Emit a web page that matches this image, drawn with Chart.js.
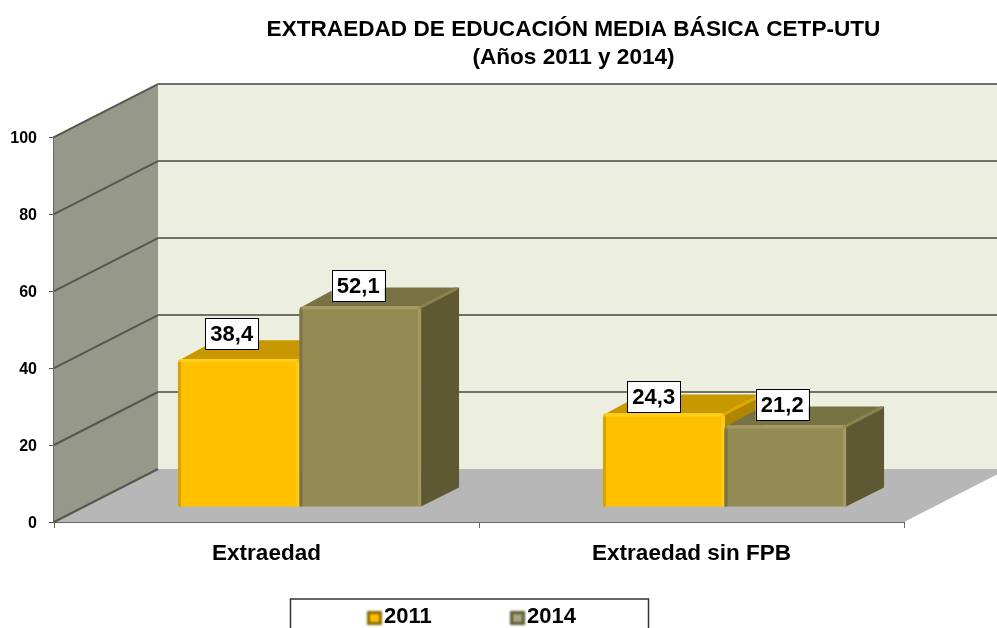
<!DOCTYPE html>
<html>
<head>
<meta charset="utf-8">
<style>
  html, body { margin: 0; padding: 0; background: #fff; overflow: hidden; }
  canvas { display: block; }
</style>
<script src="https://cdn.jsdelivr.net/npm/chart.js@4"></script>
</head>
<body>
<canvas id="chart" width="997" height="628"></canvas>
<script>
const categories = ['Extraedad', 'Extraedad sin FPB'];
const seriesNames = ['2011', '2014'];
const values2011 = [38.4, 24.3];
const values2014 = [52.1, 21.2];
const titleLines = ['EXTRAEDAD DE EDUCACIÓN MEDIA BÁSICA CETP-UTU', '(Años 2011 y 2014)'];

const FONT = '"Liberation Sans", Arial, sans-serif';

// depth of the fake 3d box, and how far the bars sit inside it
const BOX_DX = 104, BOX_DY = -53;
const BAR_DX = 33, BAR_DY = -15;
const SIDE_DX = 38, SIDE_DY = -19;

const faces = [
  { front: '#FFC000', top: '#C89800', side: '#B08600', light: '#FFCE1A', dark: '#D8A200', seam: '#DDA800' },
  { front: '#948A54', top: '#787144', side: '#5F5933', light: '#A59B62', dark: '#7C7346', seam: '#8A8250' },
];
// labels were moved by hand in the original: per series, per category
const labelShift = [
  [[-7, -10], [-10, -1]],
  [[-2, -5], [-3, -5]],
];

function poly(ctx, pts, fill) {
  ctx.beginPath();
  pts.forEach((p, i) => i ? ctx.lineTo(p[0], p[1]) : ctx.moveTo(p[0], p[1]));
  ctx.closePath();
  ctx.fillStyle = fill;
  ctx.fill();
}

function drawSeries(chart, d) {
  const ctx = chart.ctx;
  const f = faces[d];
  const meta = chart.getDatasetMeta(d);
  meta.data.forEach(bar => {
    const x0 = bar.x - bar.width / 2 + BAR_DX, x1 = bar.x + bar.width / 2 + BAR_DX;
    const top = bar.y + BAR_DY, base = bar.base + BAR_DY;
    poly(ctx, [[x0 + 3, top], [x1, top], [x1 + SIDE_DX, top + SIDE_DY], [x0 + SIDE_DX, top + SIDE_DY]], f.top);
    poly(ctx, [[x1, top], [x1 + SIDE_DX, top + SIDE_DY], [x1 + SIDE_DX, base + SIDE_DY], [x1, base]], f.side);
    ctx.strokeStyle = f.seam;
    ctx.lineWidth = 3;
    ctx.beginPath();
    ctx.moveTo(x1 - 1, top + 1);
    ctx.lineTo(x1 + SIDE_DX - 2, top + SIDE_DY + 1);
    ctx.stroke();
  });
  ctx.save();
  ctx.translate(BAR_DX, BAR_DY);
  meta.controller.draw();
  meta.data.forEach(bar => {
    const x0 = bar.x - bar.width / 2, x1 = bar.x + bar.width / 2;
    ctx.fillStyle = f.dark;
    ctx.fillRect(x0, bar.y + 3, 3, bar.base - bar.y - 3);
    ctx.fillStyle = f.light;
    ctx.fillRect(x1 - 3, bar.y + 3, 3, bar.base - bar.y - 3);
    ctx.fillRect(x0 + 3, bar.y, bar.width - 6, 3);
  });
  ctx.restore();
}

const box3d = {
  id: 'box3d',
  afterLayout(chart) {
    // title is centred over the plot, not the page
    chart.titleBlock.left = 150;
    chart.titleBlock.right = 997;
  },
  beforeDatasetsDraw(chart) {
    const ctx = chart.ctx;
    const { left, right } = chart.chartArea;
    const y = chart.scales.y;
    const y0 = y.getPixelForValue(0), y100 = y.getPixelForValue(100);
    ctx.save();
    // back wall
    ctx.fillStyle = '#ECEFDF';
    ctx.fillRect(left + BOX_DX, y100 + BOX_DY, 997 - left - BOX_DX, y0 - y100);
    // side wall
    poly(ctx, [[left, y0], [left, y100], [left + BOX_DX, y100 + BOX_DY], [left + BOX_DX, y0 + BOX_DY]], '#969889');
    // floor
    poly(ctx, [[left, y0], [right, y0], [right + BOX_DX, y0 + BOX_DY], [left + BOX_DX, y0 + BOX_DY]], '#B7B7B7');
    // gridlines across both walls
    ctx.lineWidth = 2;
    y.ticks.forEach(t => {
      const py = y.getPixelForValue(t.value);
      ctx.strokeStyle = '#55584F';
      ctx.beginPath();
      ctx.moveTo(left, py);
      ctx.lineTo(left + BOX_DX, py + BOX_DY);
      ctx.stroke();
      if (t.value > 0) {
        ctx.strokeStyle = '#6F7367';
        ctx.beginPath();
        ctx.moveTo(left + BOX_DX, py + BOX_DY);
        ctx.lineTo(997, py + BOX_DY);
        ctx.stroke();
      }
    });
    ctx.restore();
  },
  // 2014 has to paint over 2011, so the series are drawn by hand in afterDatasetsDraw
  beforeDatasetDraw() {
    return false;
  },
  afterDatasetsDraw(chart) {
    const ctx = chart.ctx;
    drawSeries(chart, 0);
    drawSeries(chart, 1);
    ctx.save();
    // value boxes
    chart.data.datasets.forEach((ds, d) => {
      chart.getDatasetMeta(d).data.forEach((bar, i) => {
        const w = 53, h = 31;
        const cx = bar.x + BAR_DX + labelShift[d][i][0];
        const bottom = bar.y + BAR_DY + labelShift[d][i][1];
        ctx.fillStyle = '#fff';
        ctx.fillRect(cx - w / 2, bottom - h, w, h);
        ctx.strokeStyle = '#000';
        ctx.lineWidth = 1;
        ctx.strokeRect(Math.round(cx - w / 2) + 0.5, Math.round(bottom - h) + 0.5, w, h);
        ctx.fillStyle = '#000';
        ctx.font = 'bold 22px ' + FONT;
        ctx.textAlign = 'center';
        ctx.textBaseline = 'middle';
        ctx.fillText(ds.data[i].toFixed(1).replace('.', ','), cx, bottom - h / 2 + 1);
      });
    });
    // legend box runs off the bottom of the page
    ctx.strokeStyle = '#333';
    ctx.lineWidth = 1.5;
    ctx.beginPath();
    ctx.moveTo(290.5, 628);
    ctx.lineTo(290.5, 599);
    ctx.lineTo(648.5, 599);
    ctx.lineTo(648.5, 628);
    ctx.stroke();
    const legendX = [367, 510];
    chart.data.datasets.forEach((ds, d) => {
      const x = legendX[d];
      ctx.filter = 'blur(0.8px)';
      ctx.fillStyle = d ? '#5F5933' : '#8A6C00';
      ctx.fillRect(x, 611, 15, 14);
      ctx.fillStyle = d ? '#A8A67E' : '#FFC000';
      ctx.fillRect(x + 3, 614, 9, 8);
      ctx.filter = 'none';
      ctx.fillStyle = '#000';
      ctx.font = 'bold 22px ' + FONT;
      ctx.textAlign = 'left';
      ctx.textBaseline = 'middle';
      ctx.fillText(ds.label, x + 17, 617);
    });
    ctx.restore();
  },
};

new Chart(document.getElementById('chart').getContext('2d'), {
  type: 'bar',
  plugins: [box3d],
  data: {
    labels: categories,
    datasets: [
      { label: seriesNames[0], data: values2011, backgroundColor: faces[0].front },
      { label: seriesNames[1], data: values2014, backgroundColor: faces[1].front },
    ],
  },
  options: {
    responsive: false,
    animation: false,
    layout: { padding: { left: 0, right: 93, top: 0, bottom: 0 } },
    datasets: {
      bar: { categoryPercentage: 0.572, barPercentage: 1, borderRadius: { topLeft: 3, topRight: 3 }, borderSkipped: 'bottom' },
    },
    plugins: {
      legend: { display: false },
      tooltip: { enabled: false },
      title: {
        display: true,
        text: titleLines,
        color: '#000',
        font: { family: FONT, size: 22.6, weight: 'bold', lineHeight: 1.24 },
        padding: { top: 16, bottom: 65 },
      },
    },
    scales: {
      x: {
        afterFit(scale) { scale.height = 106; },
        grid: { drawOnChartArea: false, color: '#666', tickLength: 6, lineWidth: 1 },
        border: { color: '#666', width: 2 },
        ticks: { color: '#000', font: { family: FONT, size: 22.5, weight: 'bold' }, padding: 12, maxRotation: 0 },
      },
      y: {
        min: 0,
        max: 100,
        afterFit(scale) { scale.width = 54; },
        grid: { drawOnChartArea: false, color: '#555', tickLength: 5, lineWidth: 1 },
        border: { color: '#666', width: 2 },
        ticks: { stepSize: 20, color: '#000', font: { family: FONT, size: 16, weight: 'bold' }, padding: 12, labelOffset: 2 },
      },
    },
  },
});
</script>
</body>
</html>
